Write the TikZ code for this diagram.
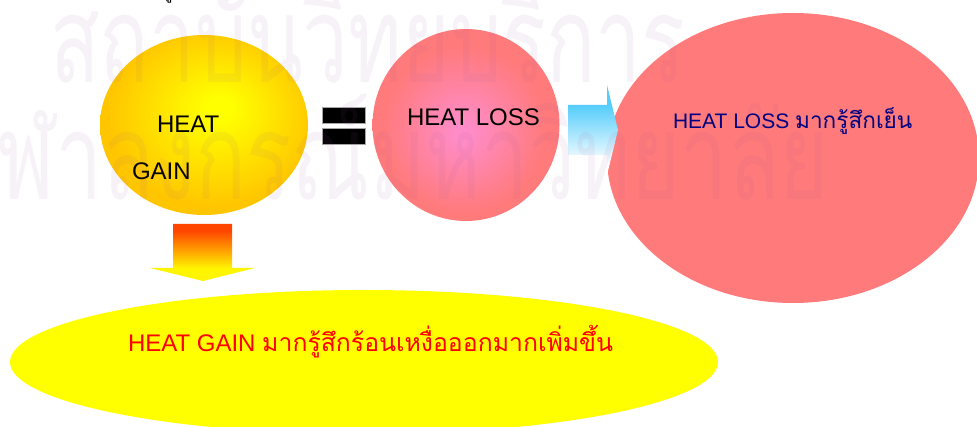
\documentclass[tikz,border=0pt]{standalone}
\usepackage{fontspec}
\setmainfont{Liberation Sans}
\newfontfamily\thaifont[Script=Thai]{Loma}
\usetikzlibrary{shapes.geometric}
\definecolor{goldc}{RGB}{255,198,0}
\definecolor{yelc}{RGB}{255,255,0}
\definecolor{pinkin}{RGB}{255,140,200}
\definecolor{salmon}{RGB}{255,122,122}
\definecolor{navyc}{RGB}{0,0,128}
\definecolor{cyanc}{RGB}{85,205,252}
\definecolor{orangec}{RGB}{255,70,0}
\definecolor{yelarrow}{RGB}{255,245,0}
\definecolor{wm}{RGB}{160,90,160}
\pgfdeclareradialshading{goldrad}{\pgfpoint{4bp}{5bp}}{color(0bp)=(yelc); color(3bp)=(yelc); color(25bp)=(goldc); color(50bp)=(goldc)}
\pgfdeclareradialshading{pinkrad}{\pgfpoint{-1bp}{-2bp}}{color(0bp)=(pinkin); color(2bp)=(pinkin); color(22bp)=(salmon); color(50bp)=(salmon)}
\pgfdeclareverticalshading{cyanv}{100bp}{color(0bp)=(white); color(25bp)=(white); color(31bp)=(white); color(64bp)=(cyanc); color(75bp)=(cyanc); color(100bp)=(cyanc)}
\pgfdeclareverticalshading{orangev}{100bp}{color(0bp)=(yelarrow); color(25bp)=(yelarrow); color(36bp)=(yelarrow); color(69bp)=(orangec); color(75bp)=(orangec); color(100bp)=(orangec)}
\tikzset{
  blob/.style={ellipse, draw=none, inner sep=0pt},
  lbl/.style={anchor=base west, inner sep=0pt, outer sep=0pt},
  eqbar/.style={fill=black, draw=black!35, line width=0.6pt},
  wmark/.style={anchor=base west, inner sep=0pt, text=wm, text opacity=0.075},
}
\begin{document}
\begin{tikzpicture}[x=1pt, y=-1pt]
\useasboundingbox (0,0) rectangle (977,427);
\fill[white] (0,0) rectangle (977,427);
% top fragment
\node[lbl] (frag) at (163,-1.5) {\fontsize{18pt}{18pt}\thaifont รู};
% gold ellipse
\node[blob, minimum width=208pt, minimum height=180pt, shading=goldrad] (gain) at (204,125) {};
% equals sign
\path[eqbar] (322,107) rectangle (365,123);
\path[eqbar] (322,128) rectangle (365,144);
\coordinate (eq) at (343,125);
% pink circle
\node[blob, minimum width=187pt, minimum height=192pt, shading=pinkrad] (loss) at (466,125) {};
% big pink ellipse
\node[blob, minimum width=372pt, minimum height=290pt, fill=salmon] (cold) at (793,158) {};
% cyan arrow
\coordinate (ca) at (568,130);
\shade[shading=cyanv] (568,105) -- (607,105) -- (607,85) -- (618,130) -- (607,175) -- (607,155) -- (568,155) -- cycle;
% yellow bottom ellipse
\node[blob, minimum width=708pt, minimum height=144pt, fill=yelc] (hot) at (364,362) {};
% orange arrow
\coordinate (oa) at (203,224);
\shade[shading=orangev] (173,224) -- (232,224) -- (232,268) -- (255,268) -- (203,281) -- (150,268) -- (173,268) -- cycle;
% texts
\node[lbl, font=\fontsize{24pt}{24pt}\selectfont] (t1) at (157,133) {HEAT};
\node[lbl, font=\fontsize{24pt}{24pt}\selectfont] (t2) at (132,180) {GAIN};
\node[lbl, font=\fontsize{24pt}{24pt}\selectfont] (t3) at (407,126) {HEAT LOSS};
\node[lbl, text=navyc, font=\fontsize{21pt}{21pt}\selectfont] (t4) at (673,129) {HEAT LOSS {\fontsize{22.6pt}{22.6pt}\thaifont มากรู้สึกเย็น}};
\node[lbl, text=red, font=\fontsize{24pt}{24pt}\selectfont] (t5) at (128,352) {HEAT GAIN {\fontsize{24.8pt}{24.8pt}\thaifont มากรู้สึกร้อนเหงื่อออกมากเพิ่มขึ้น}};
% watermark
\node[wmark] (w1) at (50,83) {\resizebox{635pt}{\height}{\fontsize{120pt}{120pt}\thaifont สถาบันวิทยบริการ}};
\node[wmark] (w2) at (-52,200) {\resizebox{881pt}{\height}{\fontsize{120pt}{120pt}\thaifont จุฬาลงกรณ์มหาวิทยาลัย}};
\end{tikzpicture}
\end{document}
